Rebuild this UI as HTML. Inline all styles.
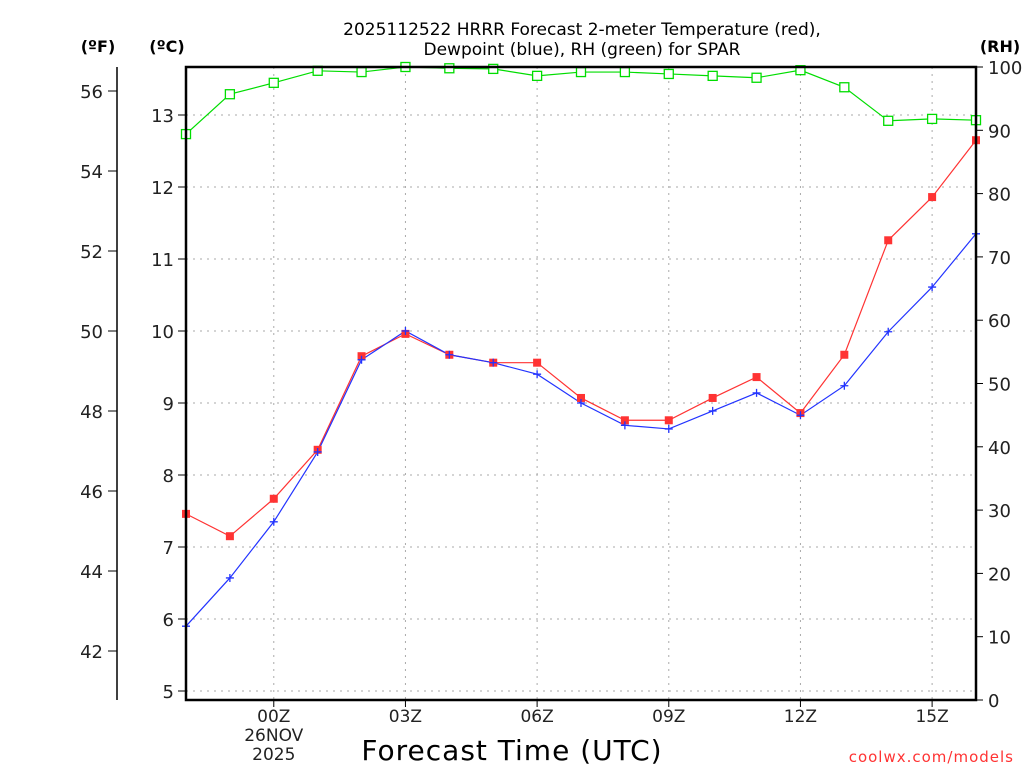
<!DOCTYPE html>
<html><head><meta charset="utf-8"><style>
html,body{margin:0;padding:0;background:#fff}
svg{display:block;font-family:"DejaVu Sans","Liberation Sans",sans-serif}
</style></head><body>
<svg id="chart" width="1024" height="768" viewBox="0 0 1024 768" xmlns="http://www.w3.org/2000/svg">
<g id="grid"></g>
<g id="series"></g>
<g id="axes"></g>
<text x="582" y="35" text-anchor="middle" font-size="17" fill="#000">2025112522 HRRR Forecast 2-meter Temperature (red),</text>
<text x="582" y="55" text-anchor="middle" font-size="17" fill="#000">Dewpoint (blue), RH (green) for SPAR</text>
<text x="98" y="52" text-anchor="middle" font-size="16" font-weight="bold">(ºF)</text>
<text x="167" y="52" text-anchor="middle" font-size="16" font-weight="bold">(ºC)</text>
<text x="1000" y="52" text-anchor="middle" font-size="16" font-weight="bold">(RH)</text>
<text x="512" y="760" text-anchor="middle" font-size="28" letter-spacing="1">Forecast Time (UTC)</text>
<text x="1014" y="762" text-anchor="end" font-size="15" fill="#ff3333" letter-spacing="1">coolwx.com/models</text>
</svg>
<script>
const hours = [-2,-1,0,1,2,3,4,5,6,7,8,9,10,11,12,13,14,15,16];
const tempC = [7.46,7.15,7.67,8.35,9.65,9.96,9.67,9.56,9.56,9.07,8.76,8.76,9.07,9.36,8.86,9.67,11.26,11.86,12.65];
const dewC = [5.90,6.57,7.35,8.32,9.60,10.0,9.67,9.56,9.40,9.00,8.69,8.64,8.89,9.14,8.83,9.24,9.99,10.61,11.35];
const rh = [89.4,95.7,97.5,99.4,99.2,100,99.8,99.7,98.6,99.2,99.2,98.9,98.6,98.3,99.5,96.8,91.5,91.8,91.6];
const cTicks = [5,6,7,8,9,10,11,12,13];
const fTicks = [42,44,46,48,50,52,54,56];
const rhTicks = [0,10,20,30,40,50,60,70,80,90,100];
const xTickHours = [0,3,6,9,12,15];
const xTickLabels = ["00Z","03Z","06Z","09Z","12Z","15Z"];

const L=186,R=976,T=67,B=700;
const xS=h=>L+(h+2)*(R-L)/18;
const cS=c=>691-(c-5)*72;
const fS=f=>cS((f-32)*5/9);
const rS=v=>B-v*(B-T)/100;
const NS="http://www.w3.org/2000/svg";
function mk(p,tag,at,txt){const e=document.createElementNS(NS,tag);for(const k in at)e.setAttribute(k,at[k]);if(txt!==undefined)e.textContent=txt;p.appendChild(e);return e;}
const grid=document.getElementById('grid'),ser=document.getElementById('series'),ax=document.getElementById('axes');

cTicks.forEach(c=>{const y=cS(c);
 const g=mk(grid,'line',{x1:L,x2:R,y1:y,y2:y,stroke:'#aaa','stroke-dasharray':'2,5'});
 
 
 const t=mk(ax,'line',{x1:L-8,x2:L,y1:y,y2:y,stroke:'#000'});
 
 
 const l=mk(ax,'text',{x:L-12,y:y+7,'text-anchor':'end','font-size':'18',fill:'#222'},String(c));
 
 
});
xTickHours.forEach((h,i)=>{const x=xS(h);
 const g=mk(grid,'line',{x1:x,x2:x,y1:T,y2:B,stroke:'#aaa','stroke-dasharray':'2,5'});
 
 
 const t=mk(ax,'line',{x1:x,x2:x,y1:B,y2:B+7,stroke:'#000'});
 
 
 const l=mk(ax,'text',{x:x,y:722,'text-anchor':'middle','font-size':'17',fill:'#222'},xTickLabels[i]);
 
 
});
[["26NOV",741],["2025",760]].forEach(([s,y])=>{
 const l=mk(ax,'text',{x:xS(0),y:y,'text-anchor':'middle','font-size':'17',fill:'#222'},s);
 
 
});
fTicks.forEach(f=>{const y=fS(f);
 const t=mk(ax,'line',{x1:108,x2:117,y1:y,y2:y,stroke:'#000'});
 
 
 const l=mk(ax,'text',{x:103,y:y+7,'text-anchor':'end','font-size':'18',fill:'#222'},String(f));
 
 
});
rhTicks.forEach(v=>{const y=rS(v);
 const t=mk(ax,'line',{x1:R,x2:R+7,y1:y,y2:y,stroke:'#000'});
 
 
 const l=mk(ax,'text',{x:988,y:y+7,'font-size':'18',fill:'#222'},String(v));
 
 
});
const fa=mk(ax,'line',{x1:117,x2:117,y1:T,y2:B,stroke:'#000','stroke-width':1.5});


const fr=mk(ax,'rect',{x:L,y:T,width:R-L,height:B-T,fill:'none',stroke:'#000','stroke-width':2.5});



function line(vals,ys,color,name){
 const pts=vals.map((v,i)=>xS(hours[i])+','+ys(v)).join(' ');
 const p=mk(ser,'polyline',{points:pts,fill:'none',stroke:color,'stroke-width':1.2});
 
 
}
line(rh,rS,'#00dd00','rh');
line(tempC,cS,'#ff3333','temperature');
line(dewC,cS,'#2233ff','dewpoint');
rh.forEach((v,i)=>{const m=mk(ser,'rect',{x:xS(hours[i])-4.5,y:rS(v)-4.5,width:9,height:9,fill:'#fff',stroke:'#00dd00','stroke-width':1.3});
 
 });
tempC.forEach((v,i)=>{const m=mk(ser,'rect',{x:xS(hours[i])-4,y:cS(v)-4,width:8,height:8,fill:'#ff3333'});
 
 });
dewC.forEach((v,i)=>{const x=xS(hours[i]),y=cS(v);
 const m=mk(ser,'path',{d:`M${x-4},${y}H${x+4}M${x},${y-4}V${y+4}`,stroke:'#2233ff','stroke-width':1.3});
 
 });
</script>
</body></html>
